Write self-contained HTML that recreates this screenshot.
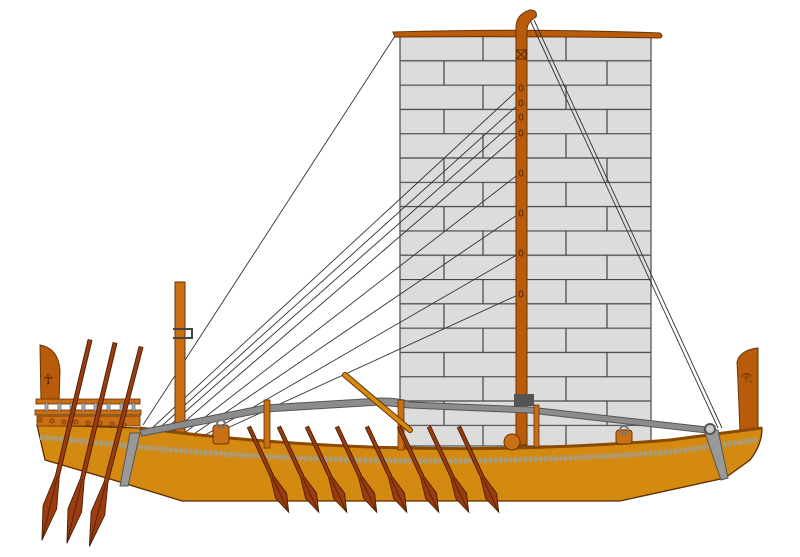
<!DOCTYPE html>
<html><head><meta charset="utf-8"><style>html,body{margin:0;padding:0;background:#fff}svg{display:block}</style></head>
<body>
<svg width="800" height="557" viewBox="0 0 800 557" xmlns="http://www.w3.org/2000/svg">
<defs>
<pattern id="br" x="400" y="36" width="246" height="48.6" patternUnits="userSpaceOnUse">
<rect width="246" height="48.6" fill="#dcdcdc"/>
<path d="M0 0.5H246M0 24.8H246M83 0V24.3M166 0V24.3M44 24.3V48.6M207 24.3V48.6" stroke="#444" stroke-width="1.2" fill="none"/>
</pattern>
<g id="om">
<path d="M-1.8 0 L1.8 0 L1.8 55 L6 76 L0 94 L-6 76 L-1.8 55 Z" fill="#9a3c10" stroke="#4a1e00" stroke-width="0.9"/>
<path d="M0 55 L0 92" stroke="#4a1e00" stroke-width="0.8"/>
</g>
<g id="ol">
<path d="M-2 0 L2 0 L2 140 L7 172 L0 206 L-7 172 L-2 140 Z" fill="#9a3c10" stroke="#4a1e00" stroke-width="0.9"/>
<path d="M0 140 L0 203" stroke="#4a1e00" stroke-width="0.8"/>
</g>
</defs>
<!-- sail -->
<rect x="400" y="36" width="251" height="410" fill="url(#br)" stroke="#555" stroke-width="1.3"/>
<!-- yard -->
<path d="M393 32 Q530 28 660 33 Q664 36 660 38 Q530 36 395 37 Z" fill="#b85c0c" stroke="#6a3300" stroke-width="1"/>
<!-- rigging -->
<g stroke="#333" stroke-width="0.9" fill="none">
<line x1="395" y1="36" x2="143" y2="425"/>
<line x1="520" y1="88" x2="150" y2="430"/>
<line x1="520" y1="103" x2="155" y2="432"/>
<line x1="520" y1="117" x2="160" y2="434"/>
<line x1="520" y1="133" x2="168" y2="436"/>
<line x1="520" y1="173" x2="178" y2="438"/>
<line x1="520" y1="213" x2="188" y2="438"/>
<line x1="520" y1="253" x2="200" y2="438"/>
<line x1="520" y1="294" x2="210" y2="436"/>
<line x1="530" y1="20" x2="718" y2="428"/>
<line x1="534" y1="20" x2="722" y2="428"/>
</g>
<!-- mast -->
<path d="M516 445 V28 Q516 14 530 10 Q538 10 536 17 Q527 22 527 30 V445 Z" fill="#b85c0c" stroke="#6a3300" stroke-width="1"/>
<rect x="516" y="50" width="10" height="9" fill="none" stroke="#5a2a00" stroke-width="1"/>
<path d="M516 50 L526 59 M526 50 L516 59" stroke="#5a2a00" stroke-width="1"/>
<g fill="none" stroke="#5a2a00" stroke-width="1">
<ellipse cx="521" cy="88" rx="2" ry="3"/><ellipse cx="521" cy="103" rx="2" ry="3"/><ellipse cx="521" cy="117" rx="2" ry="3"/><ellipse cx="521" cy="133" rx="2" ry="3"/><ellipse cx="521" cy="173" rx="2" ry="3"/><ellipse cx="521" cy="213" rx="2" ry="3"/><ellipse cx="521" cy="253" rx="2" ry="3"/><ellipse cx="521" cy="294" rx="2" ry="3"/>
</g>
<rect x="514" y="394" width="20" height="12" fill="#555"/>
<!-- small mast -->
<rect x="175" y="282" width="10" height="160" fill="#c96f14" stroke="#6a3300" stroke-width="1"/>
<path d="M173 329 H192 V338 H173" fill="none" stroke="#444" stroke-width="2"/>
<!-- bow post -->
<path d="M40 345 Q58 348 60 370 L59 402 L41 402 Z" fill="#b85c0c" stroke="#6a3300" stroke-width="1"/>
<text x="43" y="384" font-family="DejaVu Sans, sans-serif" font-size="14" fill="#4a2000">☥</text>
<!-- stern post -->
<path d="M758 348 L758 432 L740 432 Q738 380 737 362 Q740 350 758 348 Z" fill="#b85c0c" stroke="#6a3300" stroke-width="1"/>
<text x="740" y="380" font-family="DejaVu Sans, sans-serif" font-size="10" fill="#4a2000">𓂀</text>
<!-- hull -->
<path d="M37 425 L140 428 Q400 462 670 440 L762 428 Q762 445 750 460 L725 478 L620 501 L182 501 L120 482 L45 460 Z" fill="#d48a10" stroke="#5a2a00" stroke-width="1.3"/>
<path d="M140 428 Q400 462 670 440 L762 428" fill="none" stroke="#8a4a00" stroke-width="3"/>
<path d="M40 437 L140 447 Q400 472 670 452 L758 440" fill="none" stroke="#a89a78" stroke-width="6" stroke-dasharray="3 2"/>
<path d="M40 437 L140 447 Q400 472 670 452 L758 440" fill="none" stroke="#b09a70" stroke-width="2"/>
<!-- railing -->
<rect x="36" y="399" width="104" height="5" fill="#c96f14" stroke="#6a3300" stroke-width="0.8"/>
<rect x="35" y="410" width="106" height="5" fill="#c96f14" stroke="#6a3300" stroke-width="0.8"/>
<rect x="37" y="416" width="103" height="10" fill="#c96f14" stroke="#6a3300" stroke-width="0.8"/>
<g fill="#aaa" stroke="#555" stroke-width="0.6">
<rect x="45" y="403" width="3" height="8"/><rect x="58" y="403" width="3" height="8"/><rect x="70" y="403" width="3" height="8"/><rect x="82" y="403" width="3" height="8"/><rect x="94" y="403" width="3" height="8"/><rect x="107" y="403" width="3" height="8"/><rect x="120" y="403" width="3" height="8"/><rect x="132" y="403" width="3" height="8"/>
</g>
<g fill="#b85c0c" stroke="#6a3300" stroke-width="0.6">
<circle cx="40" cy="420" r="2.2"/><circle cx="52" cy="421" r="2.2"/><circle cx="64" cy="422" r="2.2"/><circle cx="76" cy="422" r="2.2"/><circle cx="88" cy="423" r="2.2"/><circle cx="100" cy="423" r="2.2"/><circle cx="112" cy="424" r="2.2"/><circle cx="124" cy="425" r="2.2"/>
</g>
<!-- grey truss beam -->
<path d="M140 430 L265 405 L380 398 Q400 398 410 402 L530 407 L715 428 L715 434 L530 413 L410 408 L380 405 L265 412 L142 436 Z" fill="#8c8c8c" stroke="#555" stroke-width="1"/>
<!-- uprights -->
<rect x="264" y="400" width="6" height="48" fill="#c96f14" stroke="#6a3300" stroke-width="0.8"/>
<rect x="534" y="405" width="5" height="42" fill="#c96f14" stroke="#6a3300" stroke-width="0.8"/>
<rect x="398" y="400" width="6" height="50" fill="#c96f14" stroke="#6a3300" stroke-width="0.8"/>
<!-- bitts -->
<rect x="213" y="425" width="16" height="19" rx="3" fill="#c96f14" stroke="#6a3300"/>
<circle cx="221" cy="424" r="4" fill="none" stroke="#777" stroke-width="2"/>
<rect x="616" y="430" width="16" height="14" rx="3" fill="#c96f14" stroke="#6a3300"/>
<circle cx="624" cy="430" r="4" fill="none" stroke="#777" stroke-width="2"/>
<circle cx="512" cy="442" r="8" fill="#c96f14" stroke="#6a3300"/>
<!-- steering oar -->
<path d="M345 375 L410 430" stroke="#6a3300" stroke-width="6" stroke-linecap="round"/>
<path d="M345 375 L410 430" stroke="#d48a10" stroke-width="4" stroke-linecap="round"/>
<!-- stern clamp -->
<path d="M704 430 L718 430 L728 478 L721 480 Z" fill="#999" stroke="#555"/>
<circle cx="710" cy="429" r="5" fill="#ccc" stroke="#555" stroke-width="2"/>
<!-- bow clamp -->
<path d="M130 433 L140 433 L128 486 L120 486 Z" fill="#999" stroke="#555"/>
<!-- oars -->
<use href="#ol" transform="translate(90,340) rotate(13.5)"/>
<use href="#ol" transform="translate(115,343) rotate(13.5)"/>
<use href="#ol" transform="translate(141,347) rotate(14.5)"/>
<use href="#om" transform="translate(249,427) rotate(-25)"/>
<use href="#om" transform="translate(279,427) rotate(-25)"/>
<use href="#om" transform="translate(307,427) rotate(-25)"/>
<use href="#om" transform="translate(337,427) rotate(-25)"/>
<use href="#om" transform="translate(367,427) rotate(-25)"/>
<use href="#om" transform="translate(399,427) rotate(-25)"/>
<use href="#om" transform="translate(429,427) rotate(-25)"/>
<use href="#om" transform="translate(459,427) rotate(-25)"/>
</svg>
</body></html>
